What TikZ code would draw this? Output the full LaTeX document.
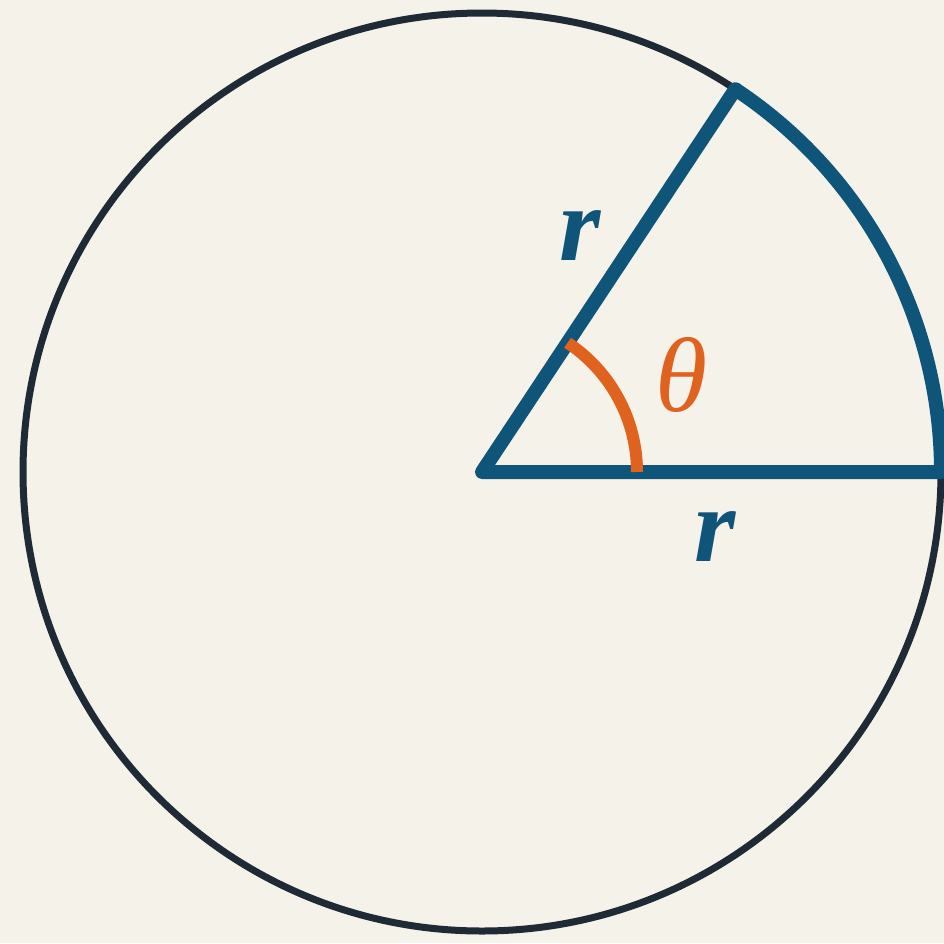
\documentclass[tikz,border=0pt]{standalone}
\usepackage{fontspec}
\setmainfont{Liberation Serif}
\usetikzlibrary{calc}
\definecolor{bg}{HTML}{F5F2EA}
\definecolor{ink}{HTML}{1E2A36}
\definecolor{blu}{HTML}{0F5479}
\definecolor{org}{HTML}{E0621F}
\begin{document}
\begin{tikzpicture}[x=1pt,y=-1pt,
  circ/.style={draw=ink,line width=7pt},
  rad/.style={draw=blu,line width=14pt,line join=round,line cap=round},
  ang/.style={draw=org,line width=12pt},
  lbl/.style={inner sep=0pt,text=blu,font=\fontsize{106}{120}\selectfont\bfseries\itshape},
  tlbl/.style={inner sep=0pt,text=org,font=\fontsize{106}{120}\selectfont\itshape}]
\fill[bg] (0,0) rectangle (944,943);
\useasboundingbox (0,0) rectangle (944,943);
\coordinate (O) at (482,472);
\draw[circ] (O) circle[radius=459];
\coordinate (A) at ($(O)+(0:459)$);
\coordinate (B) at ($(O)+(-56.5:459)$);
\draw[draw=blu,line width=14pt] (A) arc[start angle=0,end angle=-56.5,radius=459];
\draw[rad] (A) -- (O) -- (B);
\draw[ang] ($(O)+(0:155)$) arc[start angle=0,end angle=-56.5,radius=155];
\node[lbl] (r1) at (580,236) {r};
\node[lbl] (r2) at (715,537) {r};
\node[tlbl] (th) at (682,375) {θ};
\end{tikzpicture}
\end{document}
